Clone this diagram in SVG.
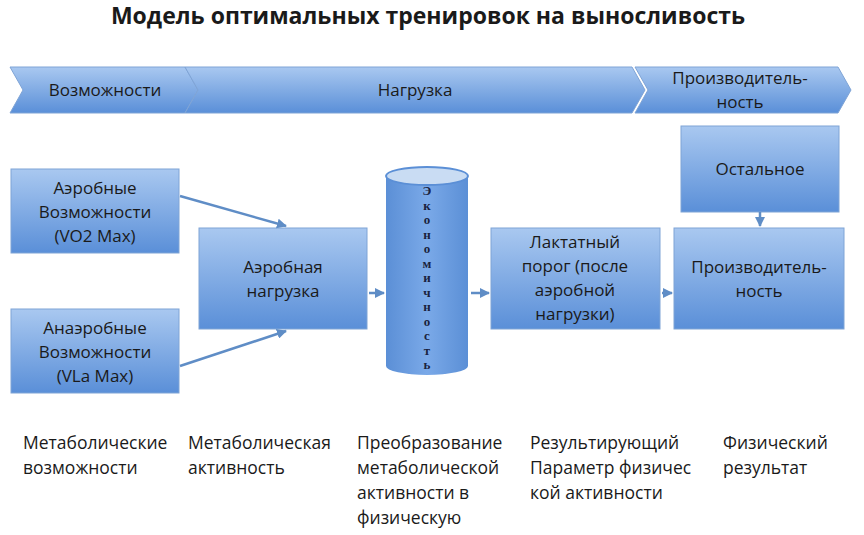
<svg xmlns="http://www.w3.org/2000/svg" width="864" height="535" viewBox="0 0 864 535">
<defs>
<linearGradient id="g" x1="0" y1="0" x2="0" y2="1"><stop offset="0" stop-color="#a9c8f0"/><stop offset="1" stop-color="#5a8fd8"/></linearGradient>
<linearGradient id="cyl" x1="0" y1="0" x2="1" y2="0"><stop offset="0" stop-color="#5b8fd6"/><stop offset="0.5" stop-color="#7aa9e8"/><stop offset="1" stop-color="#5b8fd6"/></linearGradient>
<marker id="a" viewBox="0 0 10 10" refX="9" refY="5" markerWidth="4" markerHeight="4" orient="auto"><path d="M0,0 L10,5 L0,10 z" fill="#5f8dc6"/></marker>
</defs>
<style>
.b{fill:url(#g);stroke:#7fa4d6;stroke-width:1}
.t{font-family:"Open Sans","Liberation Sans",sans-serif;font-size:17px;fill:#1a1a1a;text-anchor:middle}
.l{font-family:"Open Sans","Liberation Sans",sans-serif;font-size:17.5px;fill:#1a1a1a}
.c{stroke:#5f8dc6;stroke-width:2.5;fill:none;marker-end:url(#a)}
</style>
<rect width="864" height="535" fill="#fff"/>
<text x="428" y="24" class="t" style="font-size:23px;font-weight:bold">Модель оптимальных тренировок на выносливость</text>
<g id="phase1"><path class="b" d="M10,67 H185 L198,90 L185,113 H10 L23,90 Z"/><text x="105" y="96" class="t">Возможности</text></g>
<g id="phase2"><path class="b" d="M185,67 H632 L645,90 L632,113 H185 L198,90 Z"/><text x="415" y="96" class="t">Нагрузка</text></g>
<g id="phase3"><path class="b" d="M635,67 H838 L851,90 L838,113 H635 L648,90 Z"/><text x="740" y="84" class="t">Производитель-</text><text x="740" y="108" class="t">ность</text></g>
<g id="aero"><rect class="b" x="11" y="169" width="168" height="84"/><text x="95" y="194" class="t">Аэробные</text><text x="95" y="218" class="t">Возможности</text><text x="95" y="242" class="t">(VO2 Max)</text></g>
<g id="anaero"><rect class="b" x="11" y="309" width="168" height="84"/><text x="95" y="334" class="t">Анаэробные</text><text x="95" y="358" class="t">Возможности</text><text x="95" y="382" class="t">(VLa Max)</text></g>
<g id="load"><rect class="b" x="199" y="228" width="168" height="101"/><text x="283" y="273" class="t">Аэробная</text><text x="283" y="297" class="t">нагрузка</text></g>
<g id="econ"><path d="M386,176 V366 A41,9 0 0 0 468,366 V176 Z" fill="url(#cyl)"/><ellipse cx="427" cy="176" rx="41" ry="9" fill="#c9dcf3" stroke="#5b8fd6" stroke-width="2"/>
<text x="427" y="195" class="t" style="font-family:'Liberation Serif',serif;font-weight:bold;font-size:13px;fill:#1a2340"><tspan x="427" dy="0">Э</tspan><tspan x="427" dy="14.5">к</tspan><tspan x="427" dy="14.5">о</tspan><tspan x="427" dy="14.5">н</tspan><tspan x="427" dy="14.5">о</tspan><tspan x="427" dy="14.5">м</tspan><tspan x="427" dy="14.5">и</tspan><tspan x="427" dy="14.5">ч</tspan><tspan x="427" dy="14.5">н</tspan><tspan x="427" dy="14.5">о</tspan><tspan x="427" dy="14.5">с</tspan><tspan x="427" dy="14.5">т</tspan><tspan x="427" dy="14.5">ь</tspan></text></g>
<g id="lact"><rect class="b" x="491" y="228" width="169" height="101"/><text x="575" y="248" class="t">Лактатный</text><text x="575" y="272" class="t">порог (после</text><text x="575" y="296" class="t">аэробной</text><text x="575" y="320" class="t">нагрузки)</text></g>
<g id="rest"><rect class="b" x="681" y="126" width="158" height="86"/><text x="760" y="175" class="t">Остальное</text></g>
<g id="perf"><rect class="b" x="674" y="228" width="170" height="101"/><text x="759" y="273" class="t">Производитель-</text><text x="759" y="297" class="t">ность</text></g>
<g id="connectors">
<path class="c" d="M180,196 L286,226"/>
<path class="c" d="M180,366 L286,331"/>
<path class="c" d="M369,293 H384"/>
<path class="c" d="M471,293 H489"/>
<path class="c" d="M662,293 H672"/>
<path class="c" d="M760,212 V226"/>
</g>
<g id="labels">
<text x="23" y="449" class="l">Метаболические</text><text x="23" y="474" class="l">возможности</text>
<text x="188" y="449" class="l">Метаболическая</text><text x="188" y="474" class="l">активность</text>
<text x="357" y="449" class="l">Преобразование</text><text x="357" y="474" class="l">метаболической</text><text x="357" y="499" class="l">активности в</text><text x="357" y="524" class="l">физическую</text>
<text x="530" y="449" class="l">Результирующий</text><text x="530" y="474" class="l">Параметр физичес</text><text x="530" y="499" class="l">кой активности</text>
<text x="723" y="449" class="l">Физический</text><text x="723" y="474" class="l">результат</text>
</g>
</svg>
